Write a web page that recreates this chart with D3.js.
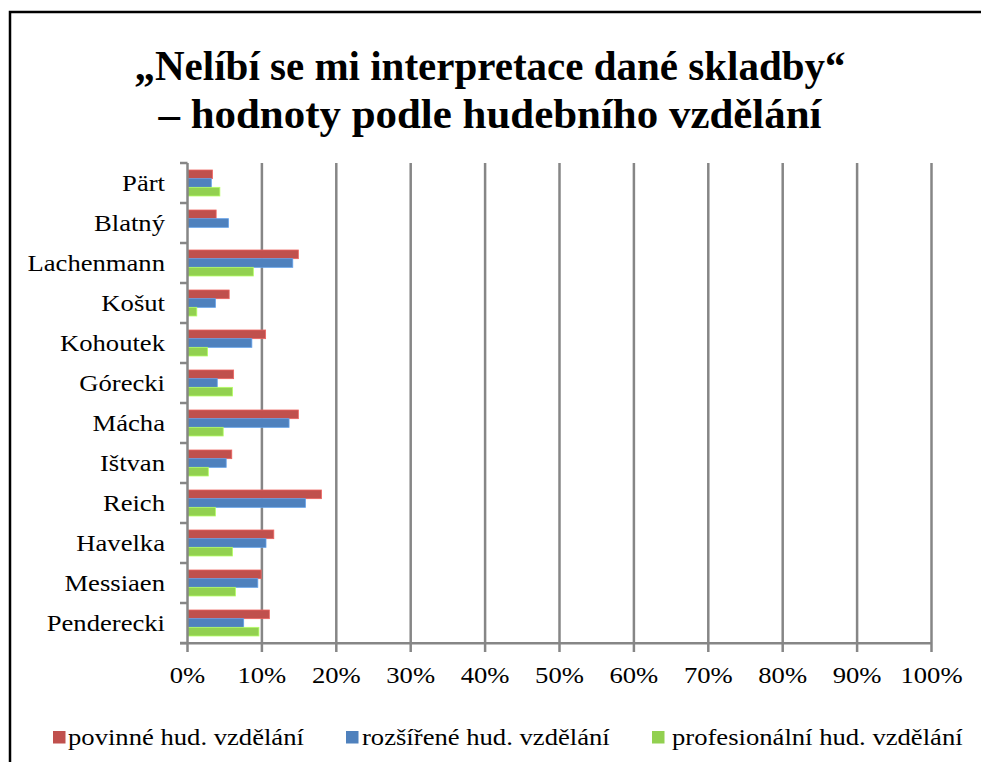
<!DOCTYPE html>
<html><head><meta charset="utf-8">
<script src="https://cdnjs.cloudflare.com/ajax/libs/d3/7.8.5/d3.min.js"></script>
<style>body{margin:0;background:#fff}svg{display:block}</style>
</head><body>
<script>
const categories = ["Pärt","Blatný","Lachenmann","Košut","Kohoutek","Górecki","Mácha","Ištvan","Reich","Havelka","Messiaen","Penderecki"];
const povinne =      [3.35, 3.85, 14.9, 5.6, 10.5, 6.2, 14.9, 5.95, 18.0, 11.6, 9.9, 11.0];
const rozsirene =    [3.2, 5.5, 14.15, 3.75, 8.65, 4.0, 13.65, 5.2, 15.85, 10.55, 9.45, 7.55];
const profesionalni =[4.35, 0, 8.85, 1.25, 2.7, 6.05, 4.8, 2.8, 3.75, 6.05, 6.45, 9.6];
const seriesNames = ["povinné hud. vzdělání","rozšířené hud. vzdělání","profesionální hud. vzdělání"];
const colors = ["#C0504D","#4F81BD","#92D050"];
const xTicks = [0,10,20,30,40,50,60,70,80,90,100];
const titleLines = ["„Nelíbí se mi interpretace dané skladby“","– hodnoty podle hudebního vzdělání"];

const W = 981, H = 762;
const svg = d3.select("body").append("svg").attr("width", W).attr("height", H);
const serif = "Liberation Serif, Times New Roman, serif";
const TS = 1.11; // horizontal stretch of body text
const fs = 24;

// outer frame
svg.append("rect").attr("x",10).attr("y",12).attr("width",1000).attr("height",800)
  .attr("fill","none").attr("stroke","#000").attr("stroke-width",2.5);

// title
const titleScale = [0.965, 1.01];
svg.append("g").selectAll("text").data(titleLines).join("text")
  .attr("transform",(d,i)=>`translate(490,${80+i*47.5}) scale(${titleScale[i]},1)`)
  .attr("text-anchor","middle").attr("font-family",serif).attr("font-weight","bold")
  .attr("font-size",42.5).attr("fill","#000").text(d=>d);

const x = d3.scaleLinear().domain([0,100]).range([187.5, 931.5]);
const y = d3.scaleBand().domain(categories).range([163, 643]).paddingInner(0.35).paddingOuter(0.175);
const ySub = d3.scaleBand().domain([0,1,2]).range([0, y.bandwidth()]);
const grid = "#868686";

// gridlines
svg.append("g").selectAll("line").data(xTicks.slice(1)).join("line")
  .attr("x1",d=>x(d)).attr("x2",d=>x(d)).attr("y1",163).attr("y2",643)
  .attr("stroke",grid).attr("stroke-width",2.5);

// bars
const data = [povinne, rozsirene, profesionalni];
const g = svg.append("g");
data.forEach((vals, si) => {
  g.selectAll(".s"+si).data(vals).join("rect").attr("class","s"+si)
    .attr("x", x(0)).attr("y",(d,i)=>y(categories[i]) + ySub(si))
    .attr("width", d=>x(d)-x(0)).attr("height", ySub.bandwidth())
    .attr("fill", colors[si]).attr("stroke", d3.color(colors[si]).brighter(0.6)).attr("stroke-width", d=> d>0?0.8:0);
});

// y axis line and ticks
const step = y.step();
const bounds = categories.map(c => y(c) - step*y.paddingInner()/2).concat([643]);
svg.append("line").attr("x1",x(0)).attr("x2",x(0)).attr("y1",163).attr("y2",643)
  .attr("stroke",grid).attr("stroke-width",2.5);
svg.append("g").selectAll("line").data(bounds).join("line")
  .attr("x1",180).attr("x2",x(0)).attr("y1",d=>d).attr("y2",d=>d)
  .attr("stroke",grid).attr("stroke-width",2.5);

// x axis
svg.append("line").attr("x1",180).attr("x2",x(100)).attr("y1",643.3).attr("y2",643.3)
  .attr("stroke",grid).attr("stroke-width",2.5);
svg.append("g").selectAll("line").data(xTicks).join("line")
  .attr("x1",d=>x(d)).attr("x2",d=>x(d)).attr("y1",643).attr("y2",652)
  .attr("stroke",grid).attr("stroke-width",2.5);
svg.append("g").selectAll("text").data(xTicks).join("text")
  .attr("transform",d=>`translate(${x(d)},683) scale(${TS},1)`).attr("text-anchor","middle")
  .attr("font-family",serif).attr("font-size",fs).text(d=>d+"%");

// category labels
svg.append("g").selectAll("text").data(categories).join("text")
  .attr("transform",c=>`translate(165,${y(c)+y.bandwidth()/2}) scale(${TS},1)`).attr("dy","0.35em")
  .attr("text-anchor","end").attr("font-family",serif).attr("font-size",fs).text(d=>d);

// legend
const legX = [53, 346, 652];
const legT = [68, 362, 672];
const leg = svg.append("g").selectAll("g").data(seriesNames).join("g");
leg.append("rect").attr("x",(d,i)=>legX[i]).attr("y",731).attr("width",12.5).attr("height",12.5).attr("fill",(d,i)=>colors[i]);
leg.append("text").attr("transform",(d,i)=>`translate(${legT[i]},745) scale(${TS},1)`)
  .attr("font-family",serif).attr("font-size",fs).text(d=>d);
</script>
</body></html>
